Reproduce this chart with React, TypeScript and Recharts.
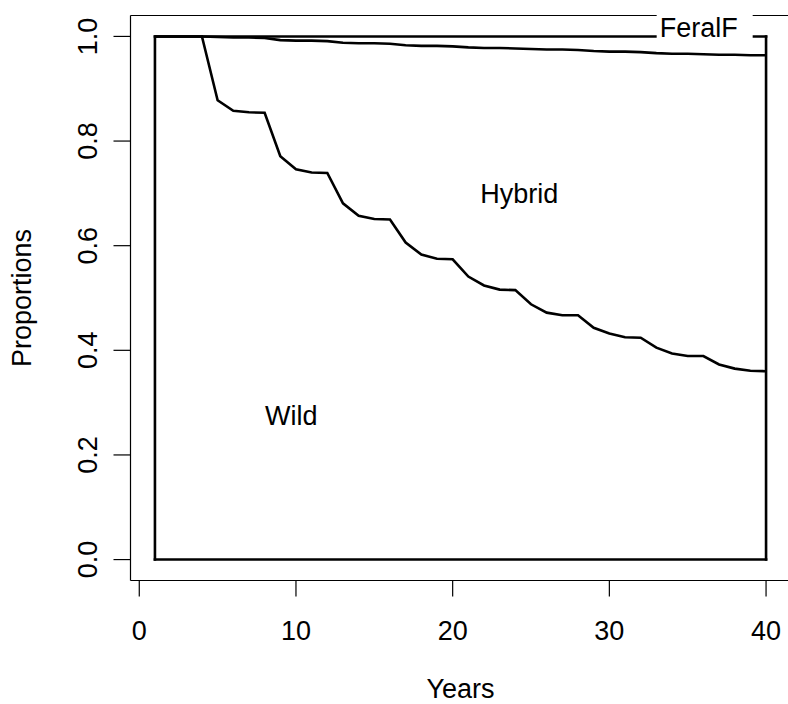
import { LineChart, Line, XAxis, YAxis, ReferenceLine, ReferenceDot } from "recharts";

const FONT = "'Liberation Sans', Arial, sans-serif";

const years = [
  1, 2, 3, 4, 5, 6, 7, 8, 9, 10, 11, 12, 13, 14, 15, 16, 17, 18, 19, 20,
  21, 22, 23, 24, 25, 26, 27, 28, 29, 30, 31, 32, 33, 34, 35, 36, 37, 38, 39, 40,
];

// upper edge of the Wild band
const wild = [
  1, 1, 1, 1, 0.878, 0.858, 0.855, 0.854, 0.771, 0.746, 0.74, 0.739, 0.681, 0.657, 0.651, 0.65,
  0.606, 0.583, 0.575, 0.574, 0.541, 0.524, 0.516, 0.515, 0.488, 0.472, 0.467, 0.467, 0.443, 0.432,
  0.425, 0.424, 0.405, 0.394, 0.389, 0.389, 0.373, 0.365, 0.361, 0.36,
];

// upper edge of the Hybrid band (rest is FeralF)
const hybrid = [
  1, 1, 1, 1, 0.999, 0.998, 0.998, 0.997, 0.993, 0.992, 0.992, 0.991, 0.988, 0.987, 0.987, 0.986,
  0.983, 0.982, 0.982, 0.981, 0.979, 0.978, 0.978, 0.977, 0.976, 0.975, 0.975, 0.974, 0.972, 0.971,
  0.971, 0.97, 0.968, 0.967, 0.967, 0.966, 0.965, 0.965, 0.964, 0.964,
];

const xTicks = [0, 10, 20, 30, 40];
const yTicks = [0, 0.2, 0.4, 0.6, 0.8, 1.0];

const data = years.map((year, i) => ({ year, wild: wild[i], hybrid: hybrid[i] }));

const first = years[0];
const last = years[years.length - 1];
const lo = yTicks[0];
const hi = yTicks[yTicks.length - 1];

function YTick({ x, y, payload }: any) {
  return (
    <text
      x={x}
      y={y}
      transform={`rotate(-90, ${x}, ${y})`}
      textAnchor="middle"
      fontSize={27}
      fontFamily={FONT}
      fill="#000"
    >
      {Number(payload.value).toFixed(1)}
    </text>
  );
}

function PlainLabel({ cx, cy, text }: any) {
  return (
    <text x={cx} y={cy + 9.5} textAnchor="middle" fontSize={27} fontFamily={FONT} fill="#000">
      {text}
    </text>
  );
}

function BoxedLabel({ cx, cy, text }: any) {
  return (
    <g>
      <rect x={cx - 42} y={cy - 22} width={96} height={30} fill="#fff" />
      <text x={cx} y={cy + 6} textAnchor="middle" fontSize={27} fontFamily={FONT} fill="#000">
        {text}
      </text>
    </g>
  );
}

export default function App() {
  const edge = { stroke: "#000", strokeWidth: 2.6, strokeLinecap: "square" as const };
  return (
    <div style={{ position: "fixed", left: 0, top: 0, width: 788, height: 704, overflow: "hidden", background: "#fff" }}>
      <LineChart
        width={800}
        height={704}
        data={data}
        margin={{ top: 15.5, right: 9.5, bottom: 0, left: 0.5 }}
        style={{ fontFamily: FONT }}
      >
        <XAxis
          dataKey="year"
          type="number"
          domain={[-0.56, 41.56]}
          ticks={xTicks}
          allowDataOverflow
          height={123.5}
          tickSize={16}
          tickMargin={24}
          axisLine={{ stroke: "#000", strokeWidth: 1.2 }}
          tickLine={{ stroke: "#000", strokeWidth: 1.2 }}
          tick={{ fontSize: 27, fill: "#000", fontFamily: FONT }}
          label={{ value: "Years", position: "insideBottom", offset: 6, fontSize: 27, fill: "#000", fontFamily: FONT }}
        />
        <YAxis
          type="number"
          domain={[-0.04, 1.04]}
          ticks={yTicks}
          allowDataOverflow
          width={130}
          tickSize={17}
          tickMargin={16.5}
          axisLine={{ stroke: "#000", strokeWidth: 1.2 }}
          tickLine={{ stroke: "#000", strokeWidth: 1.2 }}
          tick={<YTick />}
          label={{
            value: "Proportions",
            angle: -90,
            position: "insideLeft",
            offset: 0,
            content: () => (
              <text x={31} y={298} transform="rotate(-90, 31, 298)" textAnchor="middle" fontSize={27} fontFamily={FONT} fill="#000">
                Proportions
              </text>
            ),
          }}
        />
        {/* top of the frame */}
        <ReferenceLine y={1.04} stroke="#000" strokeWidth={1.2} />

        {/* outline of the stacked bands */}
        <ReferenceLine segment={[{ x: first, y: lo }, { x: last, y: lo }]} {...edge} />
        <ReferenceLine segment={[{ x: first, y: hi }, { x: last, y: hi }]} {...edge} />
        <ReferenceLine segment={[{ x: first, y: lo }, { x: first, y: hi }]} {...edge} />
        <ReferenceLine segment={[{ x: last, y: lo }, { x: last, y: hi }]} {...edge} />

        <Line type="linear" dataKey="hybrid" stroke="#000" strokeWidth={2.6} dot={false} isAnimationActive={false} />
        <Line type="linear" dataKey="wild" stroke="#000" strokeWidth={2.6} dot={false} isAnimationActive={false} />

        <ReferenceDot x={9.7} y={0.275} r={0} shape={(p: any) => <PlainLabel {...p} text="Wild" />} />
        <ReferenceDot x={24.25} y={0.7} r={0} shape={(p: any) => <PlainLabel {...p} text="Hybrid" />} />
        <ReferenceDot x={35.7} y={1.01} r={0} ifOverflow="visible" shape={(p: any) => <BoxedLabel {...p} text="FeralF" />} />
      </LineChart>
    </div>
  );
}
